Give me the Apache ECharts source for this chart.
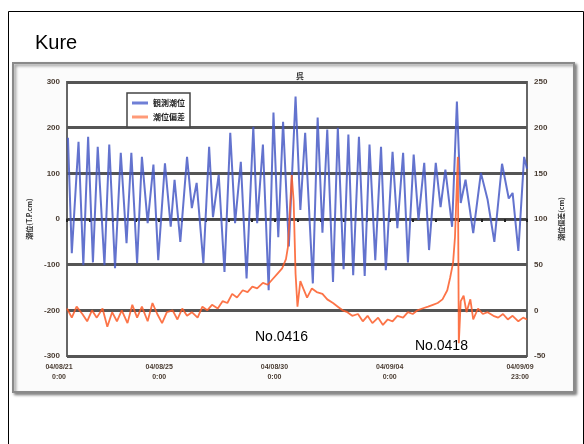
<!DOCTYPE html>
<html>
<head>
<meta charset="utf-8">
<script src="https://cdn.jsdelivr.net/npm/echarts@6/dist/echarts.min.js"></script>
<style>
  html, body { margin: 0; padding: 0; background: #ffffff; }
  #wrap { position: relative; width: 584px; height: 444px; }
  #chart, #overlay { position: absolute; left: 0; top: 0; width: 584px; height: 444px; }
  /* the embedded tide chart is a low-resolution picture, so it is drawn soft */
  #chart { filter: blur(0.7px); }
</style>
</head>
<body>
<div id="wrap">
  <div id="chart"></div>
  <div id="overlay"></div>
</div>
<script>
// Time axis in hours counted from 04/08/21 0:00
const xTickHours = [0, 96, 216, 336, 479];
const xTickLabels = ['04/08/21\n0:00', '04/08/25\n0:00', '04/08/30\n0:00', '04/09/04\n0:00', '04/09/09\n23:00'];

// Left axis: observed tide level (cm)
const levelTicks = [-300, -200, -100, 0, 100, 200, 300];
// Right axis: tide anomaly (cm)
const anomalyTicks = [-50, 0, 50, 100, 150, 200, 250];

// Observed tide: highs and lows, [hour, cm]
const tideHours = [
  1, 5, 12, 17, 22, 27, 32, 39, 44, 50, 56, 62, 67, 73, 78, 84, 90, 95,
  102, 108, 112, 118, 125, 130, 135, 142, 148, 152, 158, 164, 170, 175, 181, 187,
  194, 198, 204, 210, 215, 220, 225, 231, 238, 243, 248, 256, 261, 266, 271, 277,
  282, 288, 293, 298, 304, 310, 315, 321, 327, 332, 339, 344, 350, 355, 361, 366,
  372, 377, 384, 389, 394, 401, 406, 410, 415, 423, 431, 438, 445, 453, 460, 464,
  470, 476, 479
];
const tideLevel = [
  178, -75, 169, -101, 180, -95, 158, -101, 163, -108, 145, -53, 145, -97, 136, -9, 119, -90,
  122, -17, 86, -50, 136, 24, 79, -97, 158, 4, 97, -116, 189, -9, 125, -130,
  202, -9, 163, -156, 233, -40, 213, -60, 268, 20, 189, -141, 222, -30, 196, -138,
  200, -110, 185, -123, 180, -125, 163, -90, 158, -112, 147, -20, 145, -95, 141, -2,
  123, -68, 123, 26, 108, -17, 257, 35, 86, -31, 101, 42, -50, 121, 45, 57,
  -70, 136, 110
];

// Tide anomaly, [hour, cm]
const anomalyHours = [
  0, 5, 10, 16, 21, 26, 31, 37, 42, 47, 52, 57, 63, 68, 73, 78, 84, 89, 94,
  99, 104, 110, 115, 120, 125, 130, 136, 141, 146, 151, 157, 162, 167, 172, 177,
  183, 188, 193, 198, 204, 209, 214, 219, 224, 228, 230, 232, 234, 236, 238, 240,
  243, 246, 250, 255, 260, 266, 271, 277, 282, 287, 292, 297, 303, 308, 313, 318,
  324, 329, 334, 339, 344, 350, 355, 360, 365, 370, 376, 381, 386, 391, 396, 399,
  402, 404, 406, 407, 408, 410, 413, 416, 420, 423, 428, 433, 438, 444, 449, 454,
  459, 464, 470, 475, 479
];
const anomalyValue = [
  2, -8, 4, -4, -12, 0, -8, 2, -18, -2, -12, 0, -14, 6, -8, 4, -12, 8, -4,
  -14, -2, 0, -10, 2, -6, -2, -8, 4, 0, 6, 2, 10, 8, 18, 14,
  22, 20, 26, 24, 30, 28, 34, 40, 46, 56, 69, 107, 148, 120, 40, 4,
  32, 24, 14, 24, 20, 18, 12, 8, 4, 0, -2, -6, -4, -12, -6, -14,
  -8, -16, -10, -12, -6, -8, -2, -4, 0, 2, 4, 6, 8, 12, 22, 36,
  52, 80, 140, 168, -36, 10, 16, -2, 12, -10, 2, -4, -2, -6, -8, -4,
  -10, -6, -12, -8, -10
];

const pairs = (xs, ys) => xs.map((h, i) => [h, ys[i]]);

const tickFont = { fontSize: 8, fontWeight: 'bold', color: '#4a3d33', fontFamily: 'Liberation Sans' };
const nameFont = { fontSize: 7, fontWeight: 'bold', color: '#333', fontFamily: 'Noto Sans CJK JP' };

// End labels sit a little to the left of their ticks
const xLabelRich = {
  l: { padding: [0, 16, 0, 0], lineHeight: 10, ...tickFont, fontSize: 7 },
  r: { padding: [0, 14, 0, 0], lineHeight: 10, ...tickFont, fontSize: 7 }
};

const chart = echarts.init(document.getElementById('chart'), null, { renderer: 'canvas' });
chart.setOption({
  animation: false,
  backgroundColor: '#ffffff',
  title: {
    text: '呉',
    left: 291,
    top: 67,
    textStyle: { fontSize: 8, fontWeight: 'bold', color: '#333', fontFamily: 'Noto Sans CJK JP' }
  },
  legend: {
    data: ['観測潮位', '潮位偏差'],
    orient: 'vertical',
    left: 127,
    top: 93,
    padding: [6, 5],
    itemGap: 6,
    itemWidth: 16,
    itemHeight: 3,
    icon: 'rect',
    backgroundColor: '#ffffff',
    borderColor: '#444',
    borderWidth: 1.5,
    textStyle: { fontSize: 8, fontWeight: 'bold', color: '#222', fontFamily: 'Noto Sans CJK JP' }
  },
  grid: {
    left: 67, right: 57, top: 82, bottom: 88,
    show: true,
    backgroundColor: '#ffffff',
    borderColor: '#666',
    borderWidth: 2
  },
  xAxis: [
    {
      type: 'value',
      min: 0,
      max: 479,
      position: 'bottom',
      axisLine: { show: false },
      axisTick: { show: false },
      splitLine: { show: false },
      axisLabel: {
        customValues: xTickHours,
        margin: 6,
        lineHeight: 10,
        ...tickFont,
        fontSize: 7,
        rich: xLabelRich,
        formatter: (v) => {
          const i = xTickHours.indexOf(v);
          if (i < 0) return '';
          const lines = xTickLabels[i].split('\n');
          if (i === 0) return lines.map(s => '{l|' + s + '}').join('\n');
          if (i === xTickHours.length - 1) return lines.map(s => '{r|' + s + '}').join('\n');
          return xTickLabels[i];
        }
      }
    },
    {
      type: 'value',
      min: 0,
      max: 479,
      interval: 24,
      position: 'top',
      axisLine: { show: true, onZero: true, onZeroAxisIndex: 0, lineStyle: { color: '#444', width: 2 } },
      axisTick: { show: true, inside: true, length: 3, lineStyle: { color: '#222', width: 2 } },
      axisLabel: { show: false },
      splitLine: { show: false }
    }
  ],
  yAxis: [
    {
      type: 'value',
      min: levelTicks[0],
      max: levelTicks[levelTicks.length - 1],
      interval: 100,
      name: '潮位(T.P.cm)',
      nameLocation: 'middle',
      nameGap: 33,
      nameTextStyle: nameFont,
      axisLine: { show: false },
      axisTick: { show: false },
      axisLabel: { margin: 7, ...tickFont },
      splitLine: { show: true, lineStyle: { color: '#555', width: 2.8 } }
    },
    {
      type: 'value',
      min: anomalyTicks[0],
      max: anomalyTicks[anomalyTicks.length - 1],
      interval: 50,
      position: 'right',
      name: '潮位偏差(cm)',
      nameLocation: 'middle',
      nameGap: 24,
      nameTextStyle: nameFont,
      axisLine: { show: false },
      axisTick: { show: false },
      axisLabel: { margin: 7, ...tickFont },
      splitLine: { show: false }
    }
  ],
  series: [
    {
      name: '観測潮位',
      type: 'line',
      xAxisIndex: 0,
      yAxisIndex: 0,
      data: pairs(tideHours, tideLevel),
      showSymbol: false,
      lineStyle: { color: 'rgba(72,90,198,0.85)', width: 2 },
      itemStyle: { color: '#6f7fd6' },
      z: 3
    },
    {
      name: '潮位偏差',
      type: 'line',
      xAxisIndex: 0,
      yAxisIndex: 1,
      data: pairs(anomalyHours, anomalyValue),
      showSymbol: false,
      lineStyle: { color: 'rgba(252,92,40,0.85)', width: 1.8 },
      itemStyle: { color: '#ff9a78' },
      z: 4
    }
  ],
  graphic: [
    {
      type: 'rect',
      z: -10,
      shape: { x: 13, y: 63, width: 561, height: 329 },
      style: {
        fill: '#fbfbfb',
        stroke: '#8a8a8a',
        lineWidth: 2,
        shadowColor: 'rgba(0,0,0,0.45)',
        shadowBlur: 3,
        shadowOffsetX: 2,
        shadowOffsetY: 2
      }
    }
  ]
});

// Page frame and sharp annotations drawn on top of the tide chart
const overlay = echarts.init(document.getElementById('overlay'), null, { renderer: 'canvas' });
overlay.setOption({
  animation: false,
  backgroundColor: 'transparent',
  graphic: [
    {
      type: 'rect',
      shape: { x: 8.5, y: 11.5, width: 575, height: 440 },
      style: { fill: 'none', stroke: '#000', lineWidth: 1 }
    },
    {
      type: 'text',
      left: 35,
      top: 33,
      style: { text: 'Kure', font: '20px "Liberation Sans", Arial, sans-serif', fill: '#000' }
    },
    {
      type: 'text',
      left: 255,
      top: 330,
      style: { text: 'No.0416', font: '14px "Liberation Sans", Arial, sans-serif', fill: '#000' }
    },
    {
      type: 'text',
      left: 415,
      top: 339,
      style: { text: 'No.0418', font: '14px "Liberation Sans", Arial, sans-serif', fill: '#000' }
    }
  ]
});
</script>
</body>
</html>
